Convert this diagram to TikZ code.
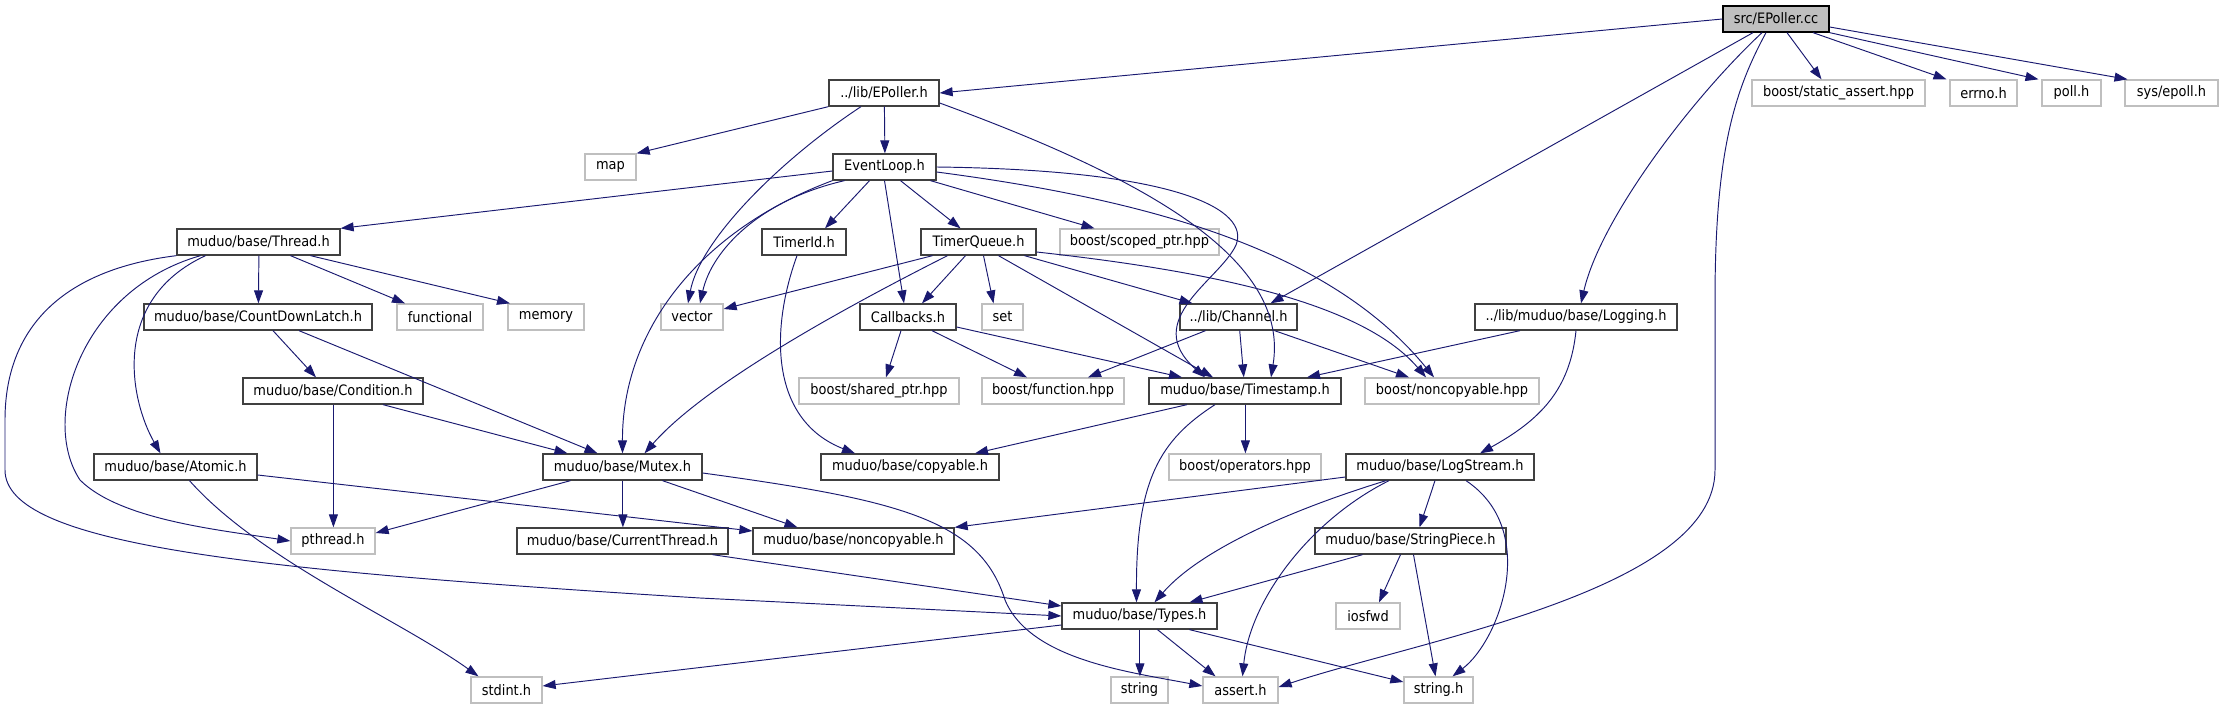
\documentclass[tikz,border=0pt]{standalone}
\usepackage{fontspec}
\setmainfont{DejaVu Sans}[FakeStretch=0.9]
\usetikzlibrary{arrows.meta}
\definecolor{edgeblue}{RGB}{25,25,112}
\definecolor{boxgray}{RGB}{191,191,191}
\definecolor{boxdark}{RGB}{64,64,64}
\tikzset{
  file/.style={draw=boxdark, line width=1.3pt, fill=white, minimum height=26pt, inner sep=0pt, font=\fontsize{14.4}{16}\selectfont},
  sysfile/.style={file, draw=boxgray},
  rootfile/.style={file, draw=black, fill=boxgray},
  dep/.style={draw=edgeblue, line width=0.95pt, -{Triangle[length=13pt,width=9pt]}}
}
\begin{document}
\begin{tikzpicture}[x=1pt,y=-1pt]
\useasboundingbox (0,0) rectangle (2223,709);
% files
\node[rootfile, minimum width=106pt] (src) at (1776,19) {src/EPoller.cc};
\node[file, minimum width=110pt] (epollh) at (884,93) {../lib/EPoller.h};
\node[sysfile, minimum width=173pt] (sassert) at (1838.5,93) {boost/static\_assert.hpp};
\node[sysfile, minimum width=67pt] (errno) at (1983.5,93) {errno.h};
\node[sysfile, minimum width=59pt] (poll) at (2071.5,93) {poll.h};
\node[sysfile, minimum width=93pt] (sysepoll) at (2171.5,93) {sys/epoll.h};
\node[sysfile, minimum width=51pt] (map) at (610.5,167) {map};
\node[file, minimum width=103pt] (evloop) at (884.5,167) {EventLoop.h};
\node[file, minimum width=163pt] (thread) at (258.5,242) {muduo/base/Thread.h};
\node[file, minimum width=84pt] (timerid) at (804,242) {TimerId.h};
\node[file, minimum width=115pt] (tqueue) at (978.5,242) {TimerQueue.h};
\node[sysfile, minimum width=159pt] (scoped) at (1139.5,242) {boost/scoped\_ptr.hpp};
\node[file, minimum width=228pt] (latch) at (258,317) {muduo/base/CountDownLatch.h};
\node[sysfile, minimum width=86pt] (functional) at (440,317) {functional};
\node[sysfile, minimum width=76pt] (memory) at (546,317) {memory};
\node[sysfile, minimum width=62pt] (vector) at (692,317) {vector};
\node[file, minimum width=96pt] (callbacks) at (908,317) {Callbacks.h};
\node[sysfile, minimum width=41pt] (set) at (1002.5,317) {set};
\node[file, minimum width=117pt] (channel) at (1238.5,317) {../lib/Channel.h};
\node[file, minimum width=202pt] (logging) at (1576,317) {../lib/muduo/base/Logging.h};
\node[file, minimum width=180pt] (condition) at (333,391) {muduo/base/Condition.h};
\node[sysfile, minimum width=160pt] (shared) at (879,391) {boost/shared\_ptr.hpp};
\node[sysfile, minimum width=142pt] (function) at (1053,391) {boost/function.hpp};
\node[file, minimum width=192pt] (timestamp) at (1245,391) {muduo/base/Timestamp.h};
\node[sysfile, minimum width=174pt] (noncopyhpp) at (1452,391) {boost/noncopyable.hpp};
\node[file, minimum width=163pt] (atomic) at (175.5,467) {muduo/base/Atomic.h};
\node[file, minimum width=159pt] (mutex) at (622.5,467) {muduo/base/Mutex.h};
\node[file, minimum width=178pt] (copyable) at (910,467) {muduo/base/copyable.h};
\node[sysfile, minimum width=152pt] (operators) at (1245,467) {boost/operators.hpp};
\node[file, minimum width=188pt] (logstream) at (1440,467) {muduo/base/LogStream.h};
\node[sysfile, minimum width=84pt] (pthread) at (333,541) {pthread.h};
\node[file, minimum width=211pt] (curthread) at (622.5,541) {muduo/base/CurrentThread.h};
\node[file, minimum width=201pt] (noncopyh) at (853.5,541) {muduo/base/noncopyable.h};
\node[file, minimum width=191pt] (strpiece) at (1410.5,541) {muduo/base/StringPiece.h};
\node[file, minimum width=155pt] (types) at (1139.5,616) {muduo/base/Types.h};
\node[sysfile, minimum width=64pt] (iosfwd) at (1368,616) {iosfwd};
\node[sysfile, minimum width=71pt] (stdint) at (506.5,690) {stdint.h};
\node[sysfile, minimum width=57pt] (string) at (1139.5,690) {string};
\node[sysfile, minimum width=75pt] (assert) at (1240.5,690) {assert.h};
\node[sysfile, minimum width=69pt] (stringh) at (1438.5,690) {string.h};
% src/EPoller.cc
\draw[dep] (src.west) -- (epollh.east);
\draw[dep] ([xshift=-23pt]src.south) -- ([xshift=32pt]channel.north);
\draw[dep] ([xshift=-14pt]src.south) .. controls (1690,100) and (1600,220) .. ([xshift=5pt]logging.north);
\draw[dep] ([xshift=-10pt]src.south) .. controls (1735,90) and (1715,150) .. (1715,300) -- (1715,470)
  .. controls (1715,590) and (1420,640) .. ([yshift=3pt]assert.east);
\draw[dep] ([xshift=11pt]src.south) -- ([xshift=-17pt]sassert.north);
\draw[dep] ([xshift=37pt]src.south) -- ([xshift=-37pt]errno.north);
\draw[dep] (src.south east) -- ([xshift=-33pt]poll.north);
\draw[dep] ([yshift=-8pt]src.east) -- ([xshift=-44pt]sysepoll.north);
% ../lib/EPoller.h
\draw[dep] (epollh.south west) -- (map.north east);
\draw[dep] ([xshift=0.4pt]epollh.south) -- ([xshift=0.4pt]evloop.north);
\draw[dep] ([xshift=-23pt]epollh.south) .. controls (780,160) and (700,240) .. ([xshift=-4pt]vector.north);
\draw[dep] ([yshift=-10pt]epollh.east) .. controls (1150,180) and (1290,260) .. ([xshift=26pt]timestamp.north);
% EventLoop.h
\draw[dep] ([yshift=-4pt]evloop.west) -- (thread.north east);
\draw[dep] ([xshift=-40pt]evloop.south) .. controls (760,200) and (712,250) .. ([xshift=8pt]vector.north);
\draw[dep] (evloop.south west) .. controls (700,230) and (622,330) .. (mutex.north);
\draw[dep] ([xshift=-15pt]evloop.south) -- ([xshift=21pt]timerid.north);
\draw[dep] (evloop.south) -- ([xshift=-4pt]callbacks.north);
\draw[dep] ([xshift=16pt]evloop.south) -- ([xshift=-18pt]tqueue.north);
\draw[dep] ([xshift=46pt]evloop.south) -- ([xshift=-45pt]scoped.north);
\draw[dep] (evloop.east) .. controls (1180,170) and (1250,210) .. (1236,245)
  .. controls (1220,280) and (1140,320) .. ([xshift=-40pt]timestamp.north);
\draw[dep] ([yshift=-5pt]evloop.east) .. controls (1150,200) and (1330,250) .. ([xshift=-18pt]noncopyhpp.north);
% muduo/base/Thread.h
\draw[dep] (thread.south west) .. controls (60,270) and (5,330) .. (5,420) -- (5,470)
  .. controls (5,545) and (250,570) .. (700,598) -- (types.west);
\draw[dep] ([xshift=-58pt]thread.south) .. controls (80,290) and (40,420) .. (80,480)
  .. controls (120,520) and (220,530) .. (pthread.west);
\draw[dep] ([xshift=-53pt]thread.south) .. controls (110,300) and (130,400) .. ([xshift=-15pt]atomic.north);
\draw[dep] ([xshift=0.4pt]thread.south) -- ([xshift=0.4pt]latch.north);
\draw[dep] ([xshift=32pt]thread.south) -- ([xshift=-35pt]functional.north);
\draw[dep] ([xshift=52pt]thread.south) -- ([xshift=-36pt]memory.north);
% CountDownLatch.h, Condition.h, Atomic.h
\draw[dep] ([xshift=15pt]latch.south) -- ([xshift=-17pt]condition.north);
\draw[dep] ([xshift=41pt]latch.south) -- ([xshift=-25pt]mutex.north);
\draw[dep] ([xshift=0.4pt]condition.south) -- ([xshift=0.4pt]pthread.north);
\draw[dep] ([xshift=50pt]condition.south) -- ([xshift=-55pt]mutex.north);
\draw[dep] ([xshift=14pt]atomic.south) .. controls (260,560) and (400,620) .. ([xshift=-28pt]stdint.north);
\draw[dep] ([yshift=-8pt]atomic.east) -- ([yshift=10pt]noncopyh.west);
% Mutex.h, CurrentThread.h
\draw[dep] ([xshift=-52pt]mutex.south) -- ([yshift=8pt]pthread.east);
\draw[dep] ([xshift=0.4pt]mutex.south) -- ([xshift=0.4pt]curthread.north);
\draw[dep] ([xshift=40pt]mutex.south) -- ([xshift=-56pt]noncopyh.north);
\draw[dep] ([yshift=-6pt]mutex.east) .. controls (900,500) and (980,520) .. (1005,600)
  .. controls (1030,660) and (1130,672) .. ([yshift=4pt]assert.west);
\draw[dep] ([xshift=90pt]curthread.south) -- ([yshift=10pt]types.west);
% TimerId.h, TimerQueue.h
\draw[dep] ([xshift=-7pt]timerid.south) .. controls (770,330) and (770,420) .. ([xshift=-55pt]copyable.north);
\draw[dep] ([xshift=-46pt]tqueue.south) -- ([yshift=8pt]vector.east);
\draw[dep] ([xshift=-31pt]tqueue.south) .. controls (820,320) and (700,390) .. ([xshift=22pt]mutex.north);
\draw[dep] ([xshift=-13pt]tqueue.south) -- ([xshift=14pt]callbacks.north);
\draw[dep] ([xshift=5pt]tqueue.south) -- ([xshift=-9pt]set.north);
\draw[dep] ([xshift=20pt]tqueue.south) -- ([xshift=-32pt]timestamp.north);
\draw[dep] ([xshift=46pt]tqueue.south) -- ([xshift=-46pt]channel.north);
\draw[dep] ([yshift=-10pt]tqueue.east) .. controls (1200,270) and (1360,300) .. ([xshift=-26pt]noncopyhpp.north);
% Callbacks.h, Channel.h, Logging.h
\draw[dep] ([xshift=-7pt]callbacks.south) -- ([xshift=7pt]shared.north);
\draw[dep] ([xshift=24pt]callbacks.south) -- ([xshift=-26pt]function.north);
\draw[dep] ([yshift=-10pt]callbacks.east) -- ([xshift=-63pt]timestamp.north);
\draw[dep] ([xshift=-33pt]channel.south) -- ([xshift=35pt]function.north);
\draw[dep] (channel) -- (timestamp);
\draw[dep] ([xshift=36pt]channel.south) -- ([xshift=-43pt]noncopyhpp.north);
\draw[dep] ([xshift=-56pt]logging.south) -- ([xshift=62pt]timestamp.north);
\draw[dep] (logging.south) .. controls (1570,390) and (1540,420) .. ([xshift=40pt]logstream.north);
% Timestamp.h
\draw[dep] ([xshift=-58pt]timestamp.south) -- ([xshift=65pt]copyable.north);
\draw[dep] ([xshift=0.4pt]timestamp.south) -- ([xshift=0.4pt]operators.north);
\draw[dep] ([xshift=-30pt]timestamp.south) .. controls (1160,440) and (1136,480) .. ([xshift=-3pt]types.north);
% LogStream.h, StringPiece.h
\draw[dep] ([yshift=-10pt]logstream.west) -- (noncopyh.north east);
\draw[dep] ([xshift=-54pt]logstream.south) .. controls (1290,510) and (1200,550) .. ([xshift=15pt]types.north);
\draw[dep] ([xshift=-51pt]logstream.south) .. controls (1310,520) and (1250,600) .. ([xshift=2pt]assert.north);
\draw[dep] ([xshift=-5pt]logstream.south) -- ([xshift=9pt]strpiece.north);
\draw[dep] ([xshift=26pt]logstream.south) .. controls (1540,530) and (1500,640) .. ([xshift=14pt]stringh.north);
\draw[dep] ([xshift=-48pt]strpiece.south) -- ([xshift=50pt]types.north);
\draw[dep] ([xshift=-10pt]strpiece.south) -- ([xshift=11pt]iosfwd.north);
\draw[dep] ([xshift=3pt]strpiece.south) -- ([xshift=-3pt]stringh.north);
% Types.h
\draw[dep] ([yshift=-9pt]types.west) -- ([yshift=4pt]stdint.east);
\draw[dep] ([xshift=0.4pt]types.south) -- ([xshift=0.4pt]string.north);
\draw[dep] ([xshift=18pt]types.south) -- ([xshift=-25pt]assert.north);
\draw[dep] ([xshift=50pt]types.south) -- ([yshift=8pt]stringh.west);
\end{tikzpicture}
\end{document}
